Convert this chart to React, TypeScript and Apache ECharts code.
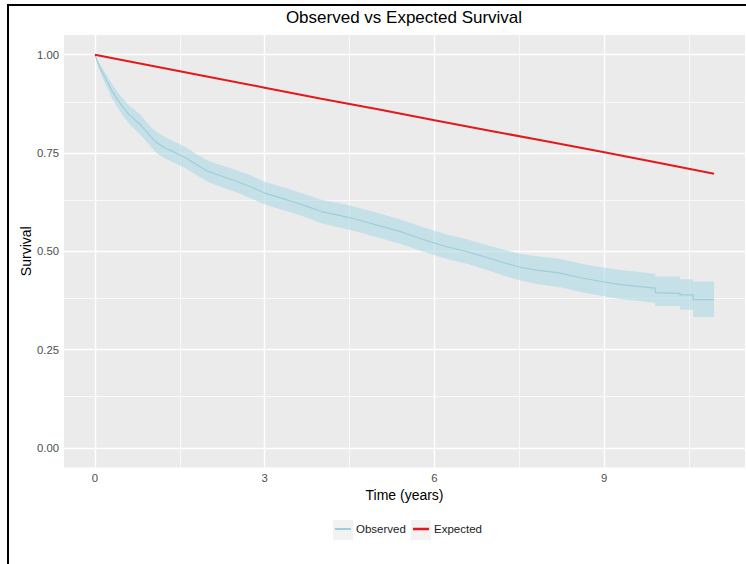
import React, { useEffect, useRef } from "react";
import * as echarts from "echarts";

// ---- data (vertices of the Kaplan-Meier curve; repeated times are visible drops) ----
const obsTime = [0, 0.05, 0.1, 0.2, 0.3, 0.4, 0.5, 0.6, 0.7, 0.8, 0.9, 1.0, 1.1, 1.25, 1.4, 1.6, 1.8, 2.0, 2.25, 2.5, 2.75, 3.0, 3.25, 3.5, 3.75, 4.0, 4.3, 4.6, 5.0, 5.4, 5.8, 6.2, 6.6, 7.0, 7.2, 7.5, 7.8, 8.2, 8.6, 8.95, 9.3, 9.9, 9.9, 10.34, 10.34, 10.57, 10.57, 10.94];
const obsSurv = [1.0, 0.98, 0.963, 0.936, 0.908, 0.885, 0.866, 0.848, 0.835, 0.822, 0.806, 0.789, 0.775, 0.762, 0.752, 0.738, 0.72, 0.703, 0.69, 0.678, 0.664, 0.648, 0.637, 0.626, 0.614, 0.601, 0.592, 0.582, 0.566, 0.55, 0.53, 0.512, 0.498, 0.481, 0.472, 0.46, 0.452, 0.445, 0.432, 0.423, 0.415, 0.406, 0.395, 0.393, 0.389, 0.389, 0.377, 0.377];
const obsLower = [1.0, 0.974, 0.953, 0.921, 0.89, 0.865, 0.844, 0.825, 0.81, 0.797, 0.781, 0.764, 0.748, 0.735, 0.725, 0.711, 0.693, 0.676, 0.662, 0.65, 0.635, 0.619, 0.608, 0.597, 0.585, 0.571, 0.561, 0.551, 0.535, 0.519, 0.499, 0.481, 0.467, 0.449, 0.439, 0.426, 0.417, 0.409, 0.396, 0.387, 0.378, 0.369, 0.361, 0.361, 0.351, 0.351, 0.333, 0.333];
const obsUpper = [1.0, 0.986, 0.973, 0.951, 0.926, 0.905, 0.888, 0.871, 0.86, 0.847, 0.831, 0.814, 0.802, 0.789, 0.779, 0.765, 0.747, 0.73, 0.718, 0.706, 0.693, 0.677, 0.666, 0.655, 0.643, 0.631, 0.623, 0.613, 0.597, 0.581, 0.561, 0.543, 0.529, 0.513, 0.505, 0.494, 0.487, 0.481, 0.468, 0.459, 0.452, 0.443, 0.436, 0.436, 0.429, 0.429, 0.423, 0.423];

const expTime = [0, 1, 2, 3, 4, 5, 6, 7, 8, 9, 10, 10.94];
const expSurv = [1.0, 0.972, 0.944, 0.916, 0.888, 0.861, 0.833, 0.806, 0.779, 0.752, 0.724, 0.697];

const xMajor = [0, 3, 6, 9];
const xMinor = [1.5, 4.5, 7.5, 10.5];
const yMajor = [0, 0.25, 0.5, 0.75, 1];
const yMinor = [0.125, 0.375, 0.625, 0.875];

const FONT = "Liberation Sans, Arial, sans-serif";

export default function App() {
  const ref = useRef<HTMLDivElement>(null);
  useEffect(() => {
    if (!ref.current) return;
    const chart = echarts.init(ref.current, null, { renderer: "svg" });
    const gridLines: any[] = [
      ...xMinor.map((v) => ({ xAxis: v, lineStyle: { width: 0.7 } })),
      ...yMinor.map((v) => ({ yAxis: v, lineStyle: { width: 0.7 } })),
      ...xMajor.map((v) => ({ xAxis: v, lineStyle: { width: 1.4 } })),
      ...yMajor.map((v) => ({ yAxis: v, lineStyle: { width: 1.4 } })),
    ];
    const bandData = obsTime.map((t, i) => [t, obsLower[i], obsUpper[i]]);
    const option: any = {
      animation: false,
      backgroundColor: "#ffffff",
      textStyle: { fontFamily: FONT },
      title: {
        text: "Observed vs Expected Survival",
        left: 404,
        top: 9,
        padding: 0,
        textAlign: "center",
        textStyle: { fontSize: 17, fontWeight: "normal", color: "#000", fontFamily: FONT },
      },
      grid: {
        left: 64,
        top: 35,
        width: 681,
        height: 432.5,
        show: true,
        backgroundColor: "#EBEBEB",
        borderWidth: 0,
        containLabel: false,
        outerBoundsMode: "none",
      },
      xAxis: {
        type: "value",
        min: -0.547,
        max: 11.487,
        name: "Time (years)",
        nameLocation: "middle",
        nameGap: 20,
        nameMoveOverlap: false,
        nameTextStyle: { fontSize: 14, color: "#000", fontFamily: FONT },
        axisLine: { show: false },
        splitLine: { show: false },
        axisTick: { show: true, length: 3.5, lineStyle: { color: "#333", width: 1 }, customValues: xMajor },
        axisLabel: { customValues: xMajor, fontSize: 11.3, color: "#4D4D4D", margin: 5, fontFamily: FONT },
      },
      yAxis: {
        type: "value",
        min: -0.05,
        max: 1.05,
        name: "Survival",
        nameLocation: "middle",
        nameGap: 31,
        nameRotate: 90,
        nameMoveOverlap: false,
        nameTextStyle: { fontSize: 14, color: "#000", fontFamily: FONT },
        axisLine: { show: false },
        splitLine: { show: false },
        axisTick: { show: true, length: 3.5, lineStyle: { color: "#333", width: 1 }, customValues: yMajor },
        axisLabel: {
          customValues: yMajor,
          fontSize: 11.3,
          color: "#4D4D4D",
          margin: 5,
          fontFamily: FONT,
          formatter: (v: number) => v.toFixed(2),
        },
      },
      legend: [
        {
          data: ["Observed"],
          left: 335,
          top: 523,
          padding: 0,
          icon: "rect",
          itemWidth: 16,
          itemHeight: 2,
          selectedMode: false,
          textStyle: { fontSize: 11.5, color: "#1a1a1a", fontFamily: FONT },
        },
        {
          data: ["Expected"],
          left: 413,
          top: 523,
          padding: 0,
          icon: "rect",
          itemWidth: 16,
          itemHeight: 2.5,
          selectedMode: false,
          textStyle: { fontSize: 11.5, color: "#1a1a1a", fontFamily: FONT },
        },
      ],
      graphic: [
        { type: "rect", shape: { x: 333, y: 520, width: 20, height: 20 }, style: { fill: "#F2F2F2" }, silent: true },
        { type: "rect", shape: { x: 411, y: 520, width: 20, height: 20 }, style: { fill: "#F2F2F2" }, silent: true },
        { type: "line", shape: { x1: 7, y1: 5, x2: 746, y2: 5 }, style: { stroke: "#000", lineWidth: 2 }, silent: true },
        { type: "line", shape: { x1: 8, y1: 4, x2: 8, y2: 564 }, style: { stroke: "#000", lineWidth: 2 }, silent: true },
      ],
      series: [
        {
          name: "gridlines",
          type: "line",
          data: [[-5, -5]],
          showSymbol: false,
          lineStyle: { width: 0 },
          silent: true,
          z: 1,
          markLine: {
            silent: true,
            z: 1,
            symbol: ["none", "none"],
            label: { show: false },
            lineStyle: { color: "#ffffff", type: "solid" },
            emphasis: { disabled: true },
            data: gridLines,
          },
        },
        {
          name: "ciBand",
          type: "custom",
          data: bandData,
          silent: true,
          z: 3,
          clip: true,
          renderItem: (params: any, api: any) => {
            if (params.dataIndex !== 0) return null;
            const upperPts: number[][] = [];
            const lowerPts: number[][] = [];
            for (let i = 0; i < bandData.length; i++) {
              const [t, lo, up] = bandData[i];
              upperPts.push(api.coord([t, up]));
              lowerPts.push(api.coord([t, lo]));
            }
            const points = upperPts.concat(lowerPts.reverse());
            return {
              type: "polygon",
              shape: { points },
              style: { fill: "rgba(173,216,230,0.6)", stroke: "none" },
              silent: true,
            };
          },
        },
        {
          name: "Observed",
          type: "line",
          color: "#9FCDDB",
          data: obsTime.map((t, i) => [t, obsSurv[i]]),
          showSymbol: false,
          lineStyle: { width: 1.2, color: "#9FCDDB" },
          silent: true,
          z: 4,
        },
        {
          name: "Expected",
          type: "line",
          color: "#E3191C",
          data: expTime.map((t, i) => [t, expSurv[i]]),
          showSymbol: false,
          lineStyle: { width: 2, color: "#E3191C" },
          silent: true,
          z: 5,
        },
      ],
    };
    chart.setOption(option);
    return () => chart.dispose();
  }, []);
  return (
    <div
      ref={ref}
      style={{ position: "fixed", left: 0, top: 0, width: 746, height: 564, background: "#fff" }}
    />
  );
}
